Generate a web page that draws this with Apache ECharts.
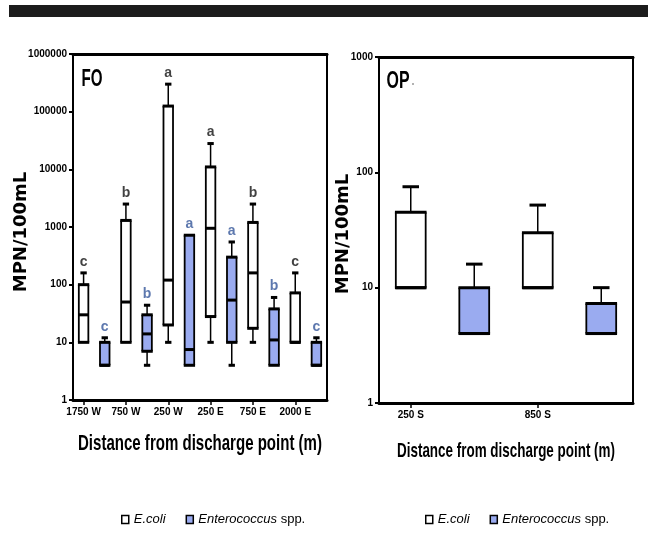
<!DOCTYPE html>
<html><head><meta charset="utf-8">
<script src="https://cdn.jsdelivr.net/npm/echarts@6/dist/echarts.min.js"></script>
<style>html,body{margin:0;padding:0;background:#fff}#c{width:648px;height:538px}</style>
</head><body><div id="c"></div>
<script>
// ---------- DATA ----------
const sitesFO = ['1750 W', '750 W', '250 W', '250 E', '750 E', '2000 E'];
// [min, q1, median, q3, max]
const ecoliFO = [
  [10, 10, 30, 100, 160],
  [10, 10, 50, 1300, 2500],
  [10, 20, 120, 125000, 300000],
  [10, 28, 950, 11000, 28000],
  [10, 17.5, 160, 1200, 2500],
  [10, 10, 10, 72, 160]
];
const enteroFO = [
  [4, 4, 4, 10, 12],
  [4, 7, 14, 30, 44],
  [4, 4, 7.5, 720, 720],
  [4, 10, 54, 300, 550],
  [4, 4, 11, 38, 60],
  [4, 4, 4, 10, 12]
];
const lettersEcoliFO = ['c', 'b', 'a', 'a', 'b', 'c'];
const lettersEnteroFO = ['c', 'b', 'a', 'a', 'b', 'c'];

const sitesOP = ['250 S', '850 S'];
const ecoliOP = [
  [10, 10, 10, 45, 75],
  [10, 10, 10, 30, 52]
];
const enteroOP = [
  [4, 4, 4, 10, 16],
  [4, 4, 4, 7.3, 10]
];

const seriesNames = ['E.coli', 'Enterococcus spp.'];
const yAxisTitle = 'MPN/100mL';
const xAxisTitle = 'Distance from discharge point (m)';
const panelTitles = ['FO', 'OP'];

// ---------- STYLE ----------
const SANS = "'Liberation Sans', Arial, sans-serif";
const BLUE = '#9aabf0';
const LBLUE = '#34569a';

const mctx = document.createElement('canvas').getContext('2d');
function measure(text, size, weight) {
  mctx.font = (weight || 'normal') + ' ' + size + 'px ' + SANS;
  return mctx.measureText(text).width;
}
// condensed text element centred on (cx, cy), squeezed to a target width
function cText(text, cx, cy, size, targetW, fill) {
  const s = targetW / measure(text, size, 'bold');
  return { type: 'text', x: cx, y: cy, scaleX: s, silent: true,
    style: { text: text, fontFamily: SANS, fontWeight: 'bold', fontSize: size, fill: fill || '#000',
      align: 'center', verticalAlign: 'middle' } };
}

function slots(sites) { return sites.flatMap(s => [s, s + ' ent']); }
function rows(arr, offset) { return arr.map((v, i) => [i * 2 + offset].concat(v)); }
function labelRows(arr, letters, offset) { return arr.map((v, i) => [i * 2 + offset, v[4], letters[i]]); }

function makeRender(boxFrac, capFrac) {
  return function (params, api) {
    const x = api.value(0);
    const v = [1, 2, 3, 4, 5].map(i => api.value(i));
    const p = v.map(val => api.coord([x, val]));
    const band = api.coord([1, v[2]])[0] - api.coord([0, v[2]])[0];
    const cx = p[0][0];
    const bw = band * boxFrac, cw = band * capFrac;
    const fill = api.visual('color');
    const L = cx - bw / 2, R = cx + bw / 2;
    const ch = [];
    const ln = (x1, y1, x2, y2, w) => ch.push({ type: 'line', shape: { x1, y1, x2, y2 }, style: { stroke: '#000', lineWidth: w } });
    if (v[4] > v[3]) { ln(cx, p[3][1], cx, p[4][1], 1.5); ln(cx - cw / 2, p[4][1], cx + cw / 2, p[4][1], 3); }
    if (v[0] < v[1]) { ln(cx, p[1][1], cx, p[0][1], 1.5); ln(cx - cw / 2, p[0][1], cx + cw / 2, p[0][1], 3); }
    ch.push({ type: 'rect', shape: { x: L, y: p[3][1], width: bw, height: p[1][1] - p[3][1] }, style: { fill: fill } });
    ln(L, p[3][1], L, p[1][1], 1.8);
    ln(R, p[3][1], R, p[1][1], 1.8);
    ln(L - 0.9, p[3][1], R + 0.9, p[3][1], 3);
    ln(L - 0.9, p[1][1], R + 0.9, p[1][1], 3);
    ln(L, p[2][1], R, p[2][1], 3);
    return { type: 'group', children: ch };
  };
}

function yAxisLog(gi, max) {
  return {
    type: 'log', logBase: 10, min: 1, max: max, gridIndex: gi,
    axisLine: { show: true, lineStyle: { color: '#000', width: 2 } },
    axisTick: { show: true, length: 4, lineStyle: { color: '#000', width: 2 } },
    minorTick: { show: false }, splitLine: { show: false },
    axisLabel: { color: '#000', fontFamily: SANS, fontWeight: 'bold', fontSize: 10, margin: 6,
      formatter: v => String(Math.round(v)) }
  };
}
function yAxisRight(gi, max) {
  return { type: 'log', logBase: 10, min: 1, max: max, gridIndex: gi, position: 'right',
    axisLine: { show: true, lineStyle: { color: '#000', width: 2 } },
    axisTick: { show: false }, axisLabel: { show: false }, splitLine: { show: false } };
}
function xAxisCat(gi, sites) {
  return {
    type: 'category', gridIndex: gi, data: slots(sites), boundaryGap: true,
    axisLine: { show: true, lineStyle: { color: '#000', width: 3 } },
    axisTick: { show: true, alignWithLabel: true, interval: i => i % 2 === 0, length: 5, lineStyle: { color: '#000', width: 1.5 } },
    axisLabel: { interval: i => i % 2 === 0, color: '#000', fontFamily: SANS, fontWeight: 'bold', fontSize: 10, margin: 7 },
    splitLine: { show: false }
  };
}
function xAxisTop(gi, sites) {
  return { type: 'category', gridIndex: gi, data: slots(sites), position: 'top',
    axisLine: { show: true, lineStyle: { color: '#000', width: 3 } },
    axisTick: { show: false }, axisLabel: { show: false }, splitLine: { show: false } };
}
function boxSeries(name, color, xi, yi, data, bf, cf) {
  return { type: 'custom', name: name, xAxisIndex: xi, yAxisIndex: yi, itemStyle: { color: color },
    renderItem: makeRender(bf, cf), encode: { x: 0, y: [1, 2, 3, 4, 5] }, data: data, silent: true, clip: false };
}
function letterSeries(xi, yi, data, color) {
  return { type: 'scatter', xAxisIndex: xi, yAxisIndex: yi, symbolSize: 0, silent: true, data: data,
    label: { show: true, position: 'top', distance: 4, formatter: p => p.data[2],
      color: color, fontFamily: SANS, fontWeight: 'bold', fontSize: 14 } };
}
const legendText = {
  fontFamily: SANS, fontSize: 13, color: '#000',
  rich: { i: { fontFamily: SANS, fontSize: 13, fontStyle: 'italic', color: '#000' },
          n: { fontFamily: SANS, fontSize: 13, color: '#000' } }
};
function legend(left) {
  return { data: seriesNames, left: left, top: 513, width: 240, padding: 0, icon: 'rect', itemWidth: 7, itemHeight: 8,
    itemGap: 20, selectedMode: false,
    itemStyle: { borderColor: '#000', borderWidth: 1.5 },
    formatter: n => n === 'E.coli' ? '{i|E.coli}' : '{i|Enterococcus} {n|spp.}',
    textStyle: legendText };
}

const option = {
  animation: false,
  backgroundColor: '#fff',
  grid: [
    { left: 73, top: 54, width: 254, height: 346, outerBoundsMode: 'none', containLabel: false },
    { left: 379, top: 57, width: 254, height: 346, outerBoundsMode: 'none', containLabel: false }
  ],
  xAxis: [xAxisCat(0, sitesFO), xAxisCat(1, sitesOP), xAxisTop(0, sitesFO), xAxisTop(1, sitesOP)],
  yAxis: [yAxisLog(0, 1000000), yAxisLog(1, 1000), yAxisRight(0, 1000000), yAxisRight(1, 1000)],
  legend: [legend(121), legend(425)],
  graphic: [
    { type: 'rect', left: 9, top: 5, shape: { width: 639, height: 12 }, style: { fill: '#1c1c1c' }, silent: true },
    cText(panelTitles[0], 92, 79, 24, 21),
    cText(panelTitles[1], 398, 81, 24, 23),
    { type: 'circle', x: 413, y: 84, shape: { r: 1 }, style: { fill: '#999' }, silent: true },
    cText(xAxisTitle, 200, 444, 22, 244),
    cText(xAxisTitle, 506, 451, 21, 218),
    { type: 'text', x: 21, y: 232, rotation: Math.PI / 2, silent: true,
      style: { text: yAxisTitle, fontFamily: 'DejaVu Sans', fontWeight: 'bold', fontSize: 18, fill: '#000', align: 'center', verticalAlign: 'middle' } },
    { type: 'text', x: 343, y: 234, rotation: Math.PI / 2, silent: true,
      style: { text: yAxisTitle, fontFamily: 'DejaVu Sans', fontWeight: 'bold', fontSize: 18, fill: '#000', align: 'center', verticalAlign: 'middle' } }
  ],
  series: [
    boxSeries(seriesNames[0], '#ffffff', 0, 0, rows(ecoliFO, 0), 0.45, 0.3),
    boxSeries(seriesNames[1], BLUE, 0, 0, rows(enteroFO, 1), 0.45, 0.3),
    boxSeries(seriesNames[0], '#ffffff', 1, 1, rows(ecoliOP, 0), 0.47, 0.26),
    boxSeries(seriesNames[1], BLUE, 1, 1, rows(enteroOP, 1), 0.47, 0.26),
    letterSeries(0, 0, labelRows(ecoliFO, lettersEcoliFO, 0), '#111'),
    letterSeries(0, 0, labelRows(enteroFO, lettersEnteroFO, 1), LBLUE)
  ]
};
const chart = echarts.init(document.getElementById('c'), null, { renderer: 'canvas' });
chart.setOption(option);
</script></body></html>
